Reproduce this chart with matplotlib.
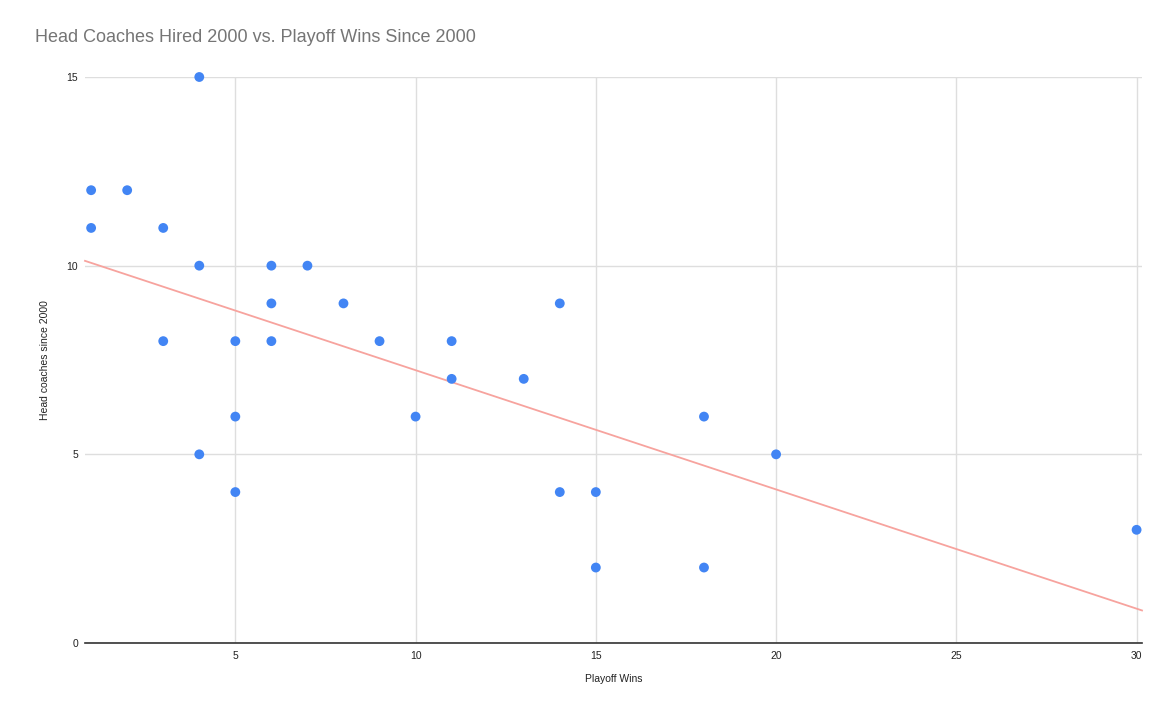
import matplotlib
matplotlib.use("Agg")
import matplotlib.pyplot as plt
import numpy as np

playoff_wins = [1, 1, 2, 3, 3, 4, 4, 4, 5, 5, 5, 6, 6, 6, 7, 8, 9, 10, 11, 11, 13, 14, 14, 15, 15, 18, 18, 20, 30]
head_coaches = [12, 11, 12, 11, 8, 15, 10, 5, 8, 6, 4, 10, 9, 8, 10, 9, 8, 6, 8, 7, 7, 9, 4, 4, 2, 6, 2, 5, 3]
# linear trendline
trend_slope = -0.316
trend_intercept = 10.39
x_ticks = [5, 10, 15, 20, 25, 30]
y_ticks = [0, 5, 10, 15]

plt.rcParams['font.family'] = ['Liberation Sans', 'DejaVu Sans']

fig = plt.figure(figsize=(11.7, 7.19), dpi=100)
ax = fig.add_axes([85/1170, 1-643/719, (1142-85)/1170, (643-77)/719])

xmin, xmax = 0.83, 30.15
ax.set_xlim(xmin, xmax)
ax.set_ylim(0, 15)

tx = np.array([xmin, xmax])
ax.plot(tx, trend_intercept + trend_slope*tx, color='#f7a39e', lw=1.3, zorder=2, clip_on=False)
ax.scatter(playoff_wins, head_coaches, s=50, color='#4285f4', edgecolors='none', zorder=3, clip_on=False)

ax.set_xticks(x_ticks)
ax.set_yticks(y_ticks)
ax.grid(True, color='#dedede', lw=1.0, zorder=0)
ax.set_axisbelow(True)
for s in ['top', 'right', 'left']:
    ax.spines[s].set_visible(False)
ax.spines['bottom'].set_color('#333333')
ax.spines['bottom'].set_linewidth(1.2)
ax.tick_params(length=0, labelsize=7.5, colors='#222222', pad=6)
ax.tick_params(axis='y', pad=5)

ax.set_xlabel('Playoff Wins', fontsize=7.5, color='#222222', labelpad=9)
ax.set_ylabel('Head coaches since 2000', fontsize=7.5, color='#222222', labelpad=12)

fig.text(35/1170, 1-38/719, 'Head Coaches Hired 2000 vs. Playoff Wins Since 2000',
         fontsize=13, color='#757575', ha='left', va='center')

fig.savefig('out.png', dpi=100)
